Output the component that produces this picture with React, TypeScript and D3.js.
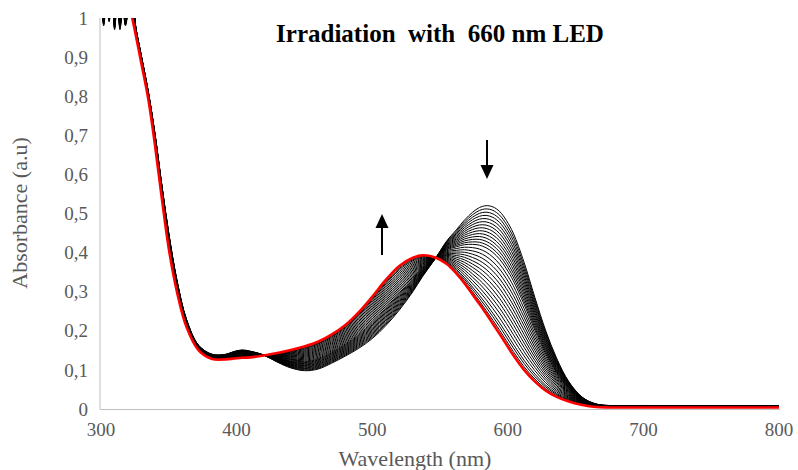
import React from "react";
import * as d3 from "d3";

const W = 798;
const H = 470;

// Wavelength grid (nm)
const wavelengths = [300,302,304,306,308,310,312,314,316,318,320,323,326,330,335,340,345,350,356,363,372,382,392,398,404,410,420,430,440,450,460,470,480,490,500,510,520,530,537,547,555,562,568,574,579,584,589,594,599,604,612,620,628,636,645,655,665,675,700,730,760,800];

// Initial spectrum (before irradiation, black)
const initialAbs = [1.05,0.98,1.04,0.99,1.06,0.97,1.04,0.97,1.03,0.98,1.01,1.03,0.97,0.90,0.81,0.70,0.57,0.45,0.33,0.23,0.163,0.14,0.14,0.147,0.151,0.148,0.138,0.12,0.105,0.098,0.102,0.117,0.135,0.155,0.18,0.213,0.253,0.3,0.338,0.387,0.43,0.458,0.483,0.503,0.515,0.52,0.517,0.505,0.482,0.45,0.375,0.285,0.2,0.13,0.07,0.03,0.013,0.009,0.009,0.008,0.008,0.008];

// Final spectrum (after irradiation, red)
const finalAbs = [1.08,1.08,1.08,1.07,1.07,1.07,1.06,1.06,1.05,1.05,1.04,1.0,0.95,0.88,0.79,0.67,0.535,0.41,0.30,0.21,0.15,0.128,0.127,0.129,0.131,0.132,0.137,0.143,0.151,0.16,0.172,0.19,0.214,0.247,0.287,0.33,0.366,0.387,0.393,0.387,0.371,0.347,0.322,0.293,0.269,0.244,0.218,0.192,0.165,0.138,0.1,0.07,0.047,0.031,0.019,0.01,0.005,0.004,0.004,0.004,0.004,0.004];

// Conversion fraction of each intermediate recorded spectrum
const conversions = [0,0.03,0.06,0.09,0.12,0.15,0.18,0.21,0.24,0.27,0.30,0.33,0.36,0.39,0.43,0.47,0.51,0.55,0.59,0.63,0.67,0.71,0.75,0.79,0.83,0.87,0.91,0.94,0.97];

const xTicks = [300,400,500,600,700,800];
const yTicks = [0,0.1,0.2,0.3,0.4,0.5,0.6,0.7,0.8,0.9,1];

const title = "Irradiation\u00a0\u00a0with\u00a0\u00a0660 nm\u00a0LED";
const xTitle = "Wavelength (nm)";
const yTitle = "Absorbance (a.u)";

export default function App() {
  const x = d3.scaleLinear().domain([300, 800]).range([101, 779]);
  const y = d3.scaleLinear().domain([0, 1]).range([409, 18]);

  const line = d3
    .line<[number, number]>()
    .x((d) => x(d[0]))
    .y((d) => y(d[1]))
    .curve(d3.curveCatmullRom.alpha(0.5));

  const spectrum = (f: number) =>
    wavelengths.map((w, i) => [w, (1 - f) * initialAbs[i] + f * finalAbs[i]] as [number, number]);

  const fmt = (v: number) => (v === 0 ? "0" : v === 1 ? "1" : v.toFixed(1).replace(".", ","));
  const font = "Liberation Serif";
  const gray = "#595959";

  return (
    <svg width={W} height={H} style={{ position: "absolute", left: 0, top: 0, background: "#fff" }}>
      <defs>
        <clipPath id="plot">
          <rect x={100} y={y(1)} width={681} height={y(0) - y(1) + 1} />
        </clipPath>
      </defs>
      {/* axes */}
      <line x1={100} x2={100} y1={y(1)} y2={y(0)} stroke="#bfbfbf" strokeWidth={1} />
      <line x1={100} x2={780} y1={y(0) + 0.5} y2={y(0) + 0.5} stroke="#bfbfbf" strokeWidth={1} />
      <g style={{ fontFamily: font }} fill={gray}>
        {yTicks.map((t) => (
          <text key={t} x={88} y={y(t)} dy="0.35em" textAnchor="end" fontSize={19}>
            {fmt(t)}
          </text>
        ))}
        {xTicks.map((t) => (
          <text key={t} x={x(t)} y={436} textAnchor="middle" fontSize={19}>
            {t}
          </text>
        ))}
        <text x={415} y={466} textAnchor="middle" fontSize={22}>
          {xTitle}
        </text>
        <text transform={`translate(27,213) rotate(-90)`} textAnchor="middle" fontSize={22}>
          {yTitle}
        </text>
      </g>
      <text x={440} y={42} textAnchor="middle" style={{ fontFamily: font }} fontSize={25} fontWeight="bold" fill="#000">
        {title}
      </text>
      {/* spectra */}
      <g clipPath="url(#plot)">
        {conversions.map((f, i) => (
          <path key={i} d={line(spectrum(f)) || ""} fill="none" stroke="#000" strokeWidth={1} />
        ))}
        <path d={line(spectrum(1)) || ""} fill="none" stroke="#ff0000" strokeWidth={2.6} />
      </g>
      {/* arrows */}
      <line x1={487} x2={487} y1={140} y2={166} stroke="#000" strokeWidth={2} />
      <path d="M480.5,165 L493.5,165 L487,179 Z" fill="#000" />
      <line x1={382} x2={382} y1={255} y2={227} stroke="#000" strokeWidth={2} />
      <path d="M375.5,228 L388.5,228 L382,214 Z" fill="#000" />
    </svg>
  );
}
